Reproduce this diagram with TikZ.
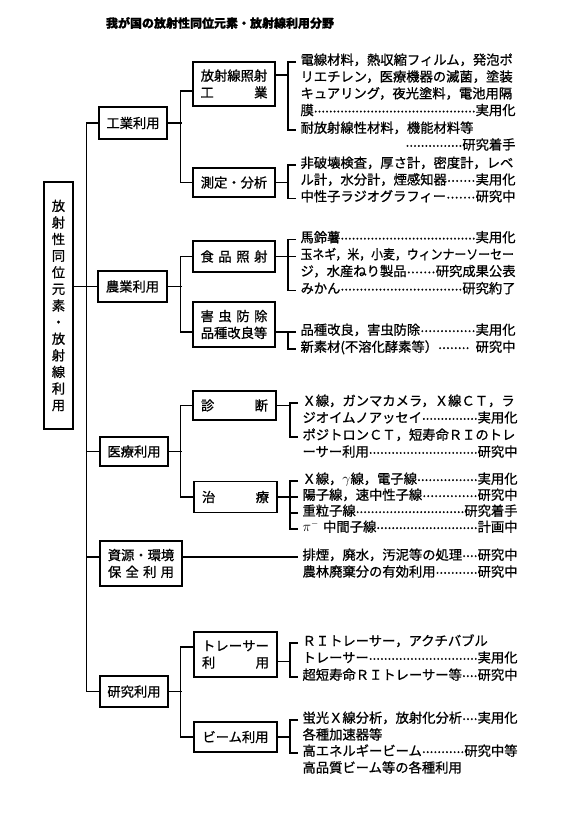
\documentclass[tikz,border=0pt]{standalone}
\usepackage{fontspec}
\setmainfont{Noto Sans CJK JP}[RawFeature={embolden=0.9}]
\usepackage{graphicx}
\usepackage{tikz}

\newcommand\bodyfont{\fontsize{13.3pt}{16.8pt}\selectfont}
\newcommand\lead{\xleaders\hbox to 3.7pt{\hss\raisebox{2.8pt}{.}\hss}\hfill}
\newcommand\sprd[2][67pt]{\makebox[#1][s]{#2}}

\begin{document}
\begin{tikzpicture}[x=1pt,y=-1pt,line width=1.1pt,
    box/.style={draw,line width=1.5pt,inner sep=0pt,align=center,font=\bodyfont},
    item/.style={anchor=mid west,inner xsep=4pt,inner ysep=0pt,text width=215pt,align=left,font=\bodyfont}]
  \useasboundingbox (0,0) rectangle (582,824);
  \node[font=\fontsize{12pt}{14pt}\selectfont\bfseries] (title) at (220,23) {我が国の放射性同位元素・放射線利用分野};
  \node[box,minimum width=29pt,minimum height=247pt,font=\fontsize{13.3pt}{16.6pt}\selectfont] (root) at (58.5,305.5)
    {放\\射\\性\\同\\位\\元\\素\\・\\放\\射\\線\\利\\用};
  % first level
  \node[box,minimum width=68pt,minimum height=32pt] (kogyo) at (133,123) {工業利用};
  \node[box,minimum width=69pt,minimum height=31pt] (nogyo) at (132.5,286.5) {農業利用};
  \node[box,minimum width=68pt,minimum height=29pt] (iryo) at (134,451.5) {医療利用};
  \node[box,minimum width=82pt,minimum height=45pt] (shigen) at (141,563.5) {資源・環境\\\sprd[66pt]{保\hfill 全\hfill 利\hfill 用}};
  \node[box,minimum width=68pt,minimum height=31pt] (kenkyu) at (134,691.5) {研究利用};
  % second level
  \node[box,minimum width=82pt,minimum height=44pt] (hosha) at (234,84) {放射線照射\\\sprd{工\hfill 業}};
  \node[box,minimum width=82pt,minimum height=29pt] (sokutei) at (234,182.5) {測定・分析};
  \node[box,minimum width=82pt,minimum height=31pt] (shokuhin) at (234,256.5) {\sprd{食\hfill 品\hfill 照\hfill 射}};
  \node[box,minimum width=82pt,minimum height=45pt] (gaichu) at (234,324.5) {\sprd{害\hfill 虫\hfill 防\hfill 除}\\品種改良等};
  \node[box,minimum width=83pt,minimum height=29pt] (shindan) at (234.5,405.5) {\sprd{診\hfill 断}};
  \node[box,minimum width=83pt,minimum height=31pt] (chiryo) at (235.5,497) {\sprd{治\hfill 療}};
  \node[box,minimum width=83pt,minimum height=45pt] (tracer) at (235.5,654.5) {\sprd{ト\hfill レ\hfill ー\hfill サ\hfill ー}\\\sprd{利\hfill 用}};
  \node[box,minimum width=83pt,minimum height=30pt] (beam) at (235.5,737) {ビーム利用};
  % items
  \node[item] (ha) at (296,62) {電線材料，熱収縮フィルム，発泡ポ\\リエチレン，医療機器の滅菌，塗装\\キュアリング，夜光塗料，電池用隔\\膜\lead 実用化};
  \node[item] (hb) at (296,130) {耐放射線性材料，機能材料等\\\hspace*{105pt}\lead 研究着手};
  \node[item] (sa) at (296,165) {非破壊検査，厚さ計，密度計，レベ\\ル計，水分計，煙感知器\lead 実用化};
  \node[item] (sb) at (296,198.5) {中性子ラジオグラフィー\lead 研究中};
  \node[item] (fa) at (296,239.5) {馬鈴薯\lead 実用化};
  \node[item] (fb) at (296,256.5) {\scalebox{.895}[1]{玉ネギ，米，小麦，ウィンナーソーセー}\\ジ，水産ねり製品\lead 研究成果公表};
  \node[item] (fc) at (296,290.5) {みかん\lead 研究約了};
  \node[item] (ga) at (296,332) {品種改良，害虫防除\lead 実用化};
  \node[item] (gb) at (296,349) {新素材(不溶化酵素等）\lead\hspace{6pt}研究中};
  \node[item] (da) at (298,403) {Ｘ線，ガンマカメラ，Ｘ線ＣＴ，ラ\\ジオイムノアッセイ\lead 実用化};
  \node[item] (db) at (298,437) {ポジトロンＣＴ，短寿命ＲＩのトレ\\ーサー利用\lead 研究中};
  \node[item] (ca) at (298,481) {Ｘ線，$\gamma$線，電子線\lead 実用化};
  \node[item] (cb) at (298,497) {陽子線，速中性子線\lead 研究中};
  \node[item] (cc) at (298,513) {重粒子線\lead 研究着手};
  \node[item] (cd) at (298,529) {$\pi^-$ 中間子線\lead 計画中};
  \node[item] (g1) at (298,557) {排煙，廃水，汚泥等の処理\lead 研究中\\農林廃棄分の有効利用\lead 研究中};
  \node[item] (ra) at (298,643) {ＲＩトレーサー，アクチバブル\\トレーサー\lead 実用化};
  \node[item] (rb) at (298,677) {超短寿命ＲＩトレーサー等\lead 研究中};
  \node[item] (ba) at (298,720) {蛍光Ｘ線分析，放射化分析\lead 実用化\\各種加速器等};
  \node[item] (bb) at (298,753) {高エネルギービーム\lead 研究中等\\高品質ビーム等の各種利用};
  % root and spine
  \draw (root.east |- nogyo.west) -- (nogyo.west);
  \draw (kogyo.west) -- ++(-12,0) |- (kenkyu.west);
  \draw (iryo.west) -- ++(-13,0);
  \draw ([yshift=6.5pt]shigen.west) -- ++(-13,0);
  % first to second level
  \draw (kogyo.east) -- ++(14,0);
  \draw ([yshift=-7pt]hosha.west) -- ++(-12,0) |- (sokutei.west);
  \draw (nogyo.east) -- ++(14,0);
  \draw (shokuhin.west) -- ++(-12,0) |- ([yshift=-7.5pt]gaichu.west);
  \draw (iryo.east) -- ++(13,0);
  \draw (shindan.west) -- ++(-12,0) |- (chiryo.west);
  \draw (kenkyu.east) -- ++(13,0);
  \draw ([yshift=7.5pt]tracer.west) -- ++(-13,0) |- (beam.west);
  % brackets
  \draw ([yshift=9pt]hosha.east) -- ++(13,0);
  \draw (ha.mid west) -- ++(-8,0) |- (hb.mid west);
  \draw (sokutei.east) -- ++(13,0);
  \draw (sa.mid west) -- ++(-8,0) |- (sb.mid west);
  \draw (shokuhin.east) -- (fb.mid west);
  \draw (fa.mid west) -- ++(-8,0) |- (fc.mid west);
  \draw ([yshift=-7.5pt]gaichu.east) -- (ga.mid west);
  \draw (ga.mid west) -- ++(-8,0) |- (gb.mid west);
  \draw (shindan.east) -- ++(14,0);
  \draw (da.mid west) -- ++(-8,0) |- (db.mid west);
  \draw (chiryo.east) -- (cb.mid west);
  \draw (ca.mid west) -- ++(-8,0) |- (cd.mid west);
  \draw (cc.mid west) -- ++(-8,0);
  \draw ([yshift=6.5pt]shigen.east) -- (g1.mid west);
  \draw ([yshift=-7pt]tracer.east) -- ++(13,0);
  \draw (ra.mid west) -- ++(-8,0) |- (rb.mid west);
  \draw (beam.east) -- ++(13,0);
  \draw (ba.mid west) -- ++(-8,0) |- (bb.mid west);
\end{tikzpicture}
\end{document}
